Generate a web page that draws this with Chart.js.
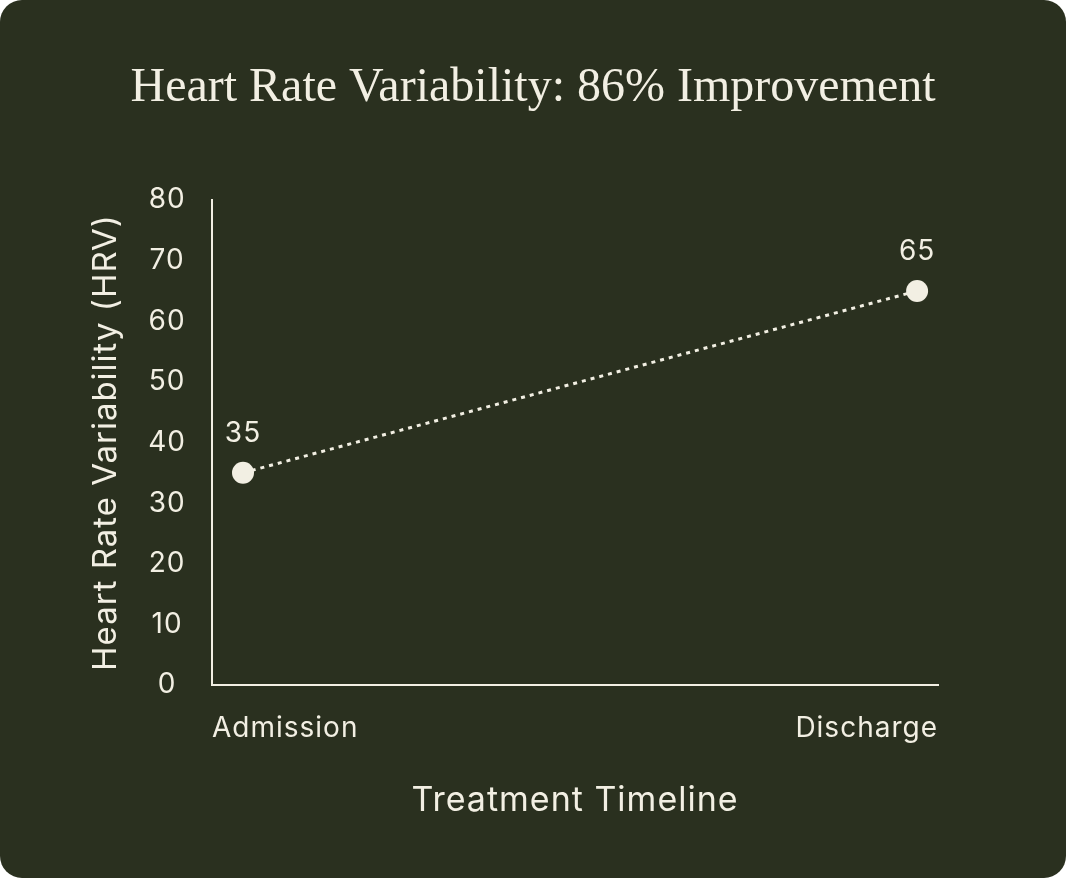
<!DOCTYPE html>
<html>
<head>
<meta charset="utf-8">
<script src="https://cdn.jsdelivr.net/npm/chart.js@4"></script>
<style>
  html, body { margin: 0; padding: 0; background: #ffffff; }
  .card {
    width: 1066px; height: 878px;
    background: #2a301f;
    border-radius: 22px;
    overflow: hidden;
  }
</style>
</head>
<body>
<div class="card"><canvas id="hrvChart" width="1066" height="878"></canvas></div>
<script>
// chart data
const categories = ["Admission", "Discharge"];
const hrvValues = [35, 65];
const yTicks = { min: 0, max: 80, step: 10 };

const titleText = "Heart Rate Variability: 86% Improvement";
const cream = "#f2efe3";

Chart.defaults.font.family = "Inter, 'Noto Sans', sans-serif";
Chart.defaults.color = cream;

// the reference sans is a bit wider than Inter, so open up the tracking a little
const tracking = {
  id: "tracking",
  beforeUpdate(chart) { chart.ctx.letterSpacing = "1px"; },
  beforeDraw(chart) { chart.ctx.letterSpacing = "1px"; }
};

// title centred on the card, drawn by hand so the axis padding does not shift it
const cardTitle = {
  id: "cardTitle",
  afterDraw(chart) {
    const ctx = chart.ctx;
    ctx.save();
    ctx.letterSpacing = "0px";
    ctx.font = "48px 'Liberation Serif', serif";
    ctx.fillStyle = cream;
    ctx.textAlign = "center";
    ctx.textBaseline = "alphabetic";
    ctx.fillText(titleText, chart.width / 2, 101);
    ctx.restore();
  }
};

// value labels above each point
const pointLabels = {
  id: "pointLabels",
  afterDatasetsDraw(chart) {
    const ctx = chart.ctx;
    const meta = chart.getDatasetMeta(0);
    ctx.save();
    ctx.font = "28px Inter, sans-serif";
    ctx.fillStyle = cream;
    ctx.textAlign = "center";
    ctx.textBaseline = "middle";
    meta.data.forEach((pt, i) => {
      ctx.fillText(String(hrvValues[i]), pt.x, pt.y - 39);
    });
    ctx.restore();
  }
};

new Chart(document.getElementById("hrvChart"), {
  type: "line",
  data: {
    datasets: [{
      data: hrvValues.map((v, i) => ({ x: i, y: v })),
      borderColor: cream,
      borderWidth: 3,
      borderDash: [4, 5],
      pointRadius: 11,
      pointHoverRadius: 11,
      pointBackgroundColor: cream,
      pointBorderWidth: 0,
      tension: 0,
      clip: false
    }]
  },
  options: {
    responsive: false,
    animation: false,
    events: [],
    layout: { padding: { top: 200, right: 128, bottom: 0, left: 0 } },
    plugins: {
      legend: { display: false },
      tooltip: { enabled: false }
    },
    scales: {
      x: {
        type: "linear",
        min: -0.046,
        max: 1.031,
        afterBuildTicks: s => { s.ticks = [{ value: s.min }, { value: s.max }]; },
        afterFit: s => { s.height = 193; },
        grid: { display: false, drawTicks: false },
        border: { color: cream, width: 2 },
        ticks: {
          align: "inner",
          padding: 27,
          font: { size: 28 },
          callback: (v, i) => categories[i]
        },
        title: {
          display: true,
          text: "Treatment Timeline",
          font: { size: 34 },
          padding: { top: 0, bottom: 57 }
        }
      },
      y: {
        min: yTicks.min,
        max: yTicks.max,
        afterFit: s => { s.width = 212; },
        grid: { display: false, drawTicks: false },
        border: { color: cream, width: 2 },
        ticks: {
          stepSize: yTicks.step,
          crossAlign: "center",
          padding: 26,
          font: { size: 28 }
        },
        title: {
          display: true,
          text: "Heart Rate Variability (HRV)",
          font: { size: 33 },
          padding: { top: 86, bottom: 0 }
        }
      }
    }
  },
  plugins: [tracking, cardTitle, pointLabels]
});
</script>
</body>
</html>
